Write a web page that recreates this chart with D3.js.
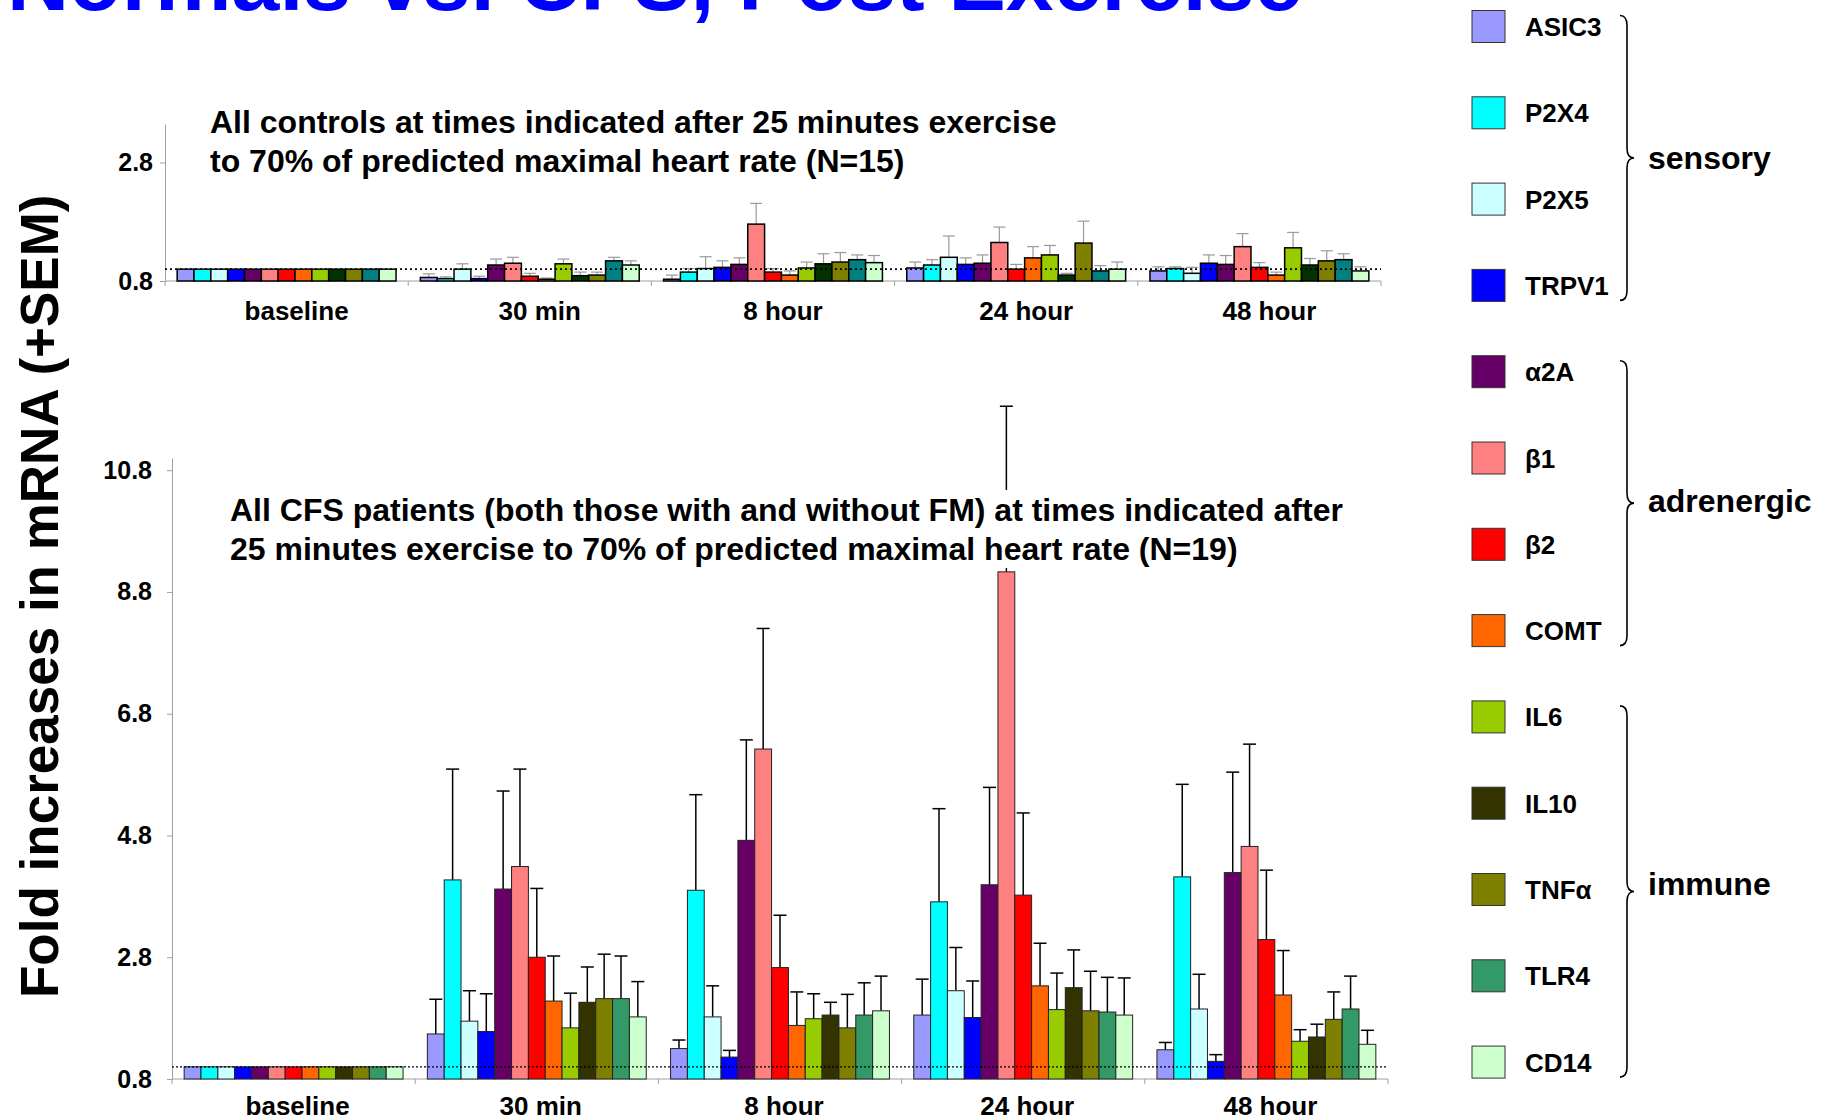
<!DOCTYPE html>
<html>
<head>
<meta charset="utf-8">
<script src="https://cdn.jsdelivr.net/npm/d3@7/dist/d3.min.js"></script>
<style>
  body { margin: 0; background: #fff; }
  svg { display: block; font-family: "Liberation Sans", Arial, sans-serif; font-weight: bold; }
</style>
</head>
<body>
<div id="chart"></div>
<script>
// ---- data ----
const genes = ["ASIC3", "P2X4", "P2X5", "TRPV1", "α2A", "β1", "β2", "COMT", "IL6", "IL10", "TNFα", "TLR4", "CD14"];
const times = ["baseline", "30 min", "8 hour", "24 hour", "48 hour"];
const geneGroups = [
    {name: "sensory", first: 0, last: 3},
    {name: "adrenergic", first: 4, last: 7},
    {name: "immune", first: 8, last: 12}
];
const legendColors = ["#9999FF", "#00FFFF", "#CCFFFF", "#0000FF", "#660066", "#FF8080", "#FF0000", "#FF6600", "#99CC00", "#333300", "#808000", "#339966", "#CCFFCC"];
// the controls panel uses two different shades for IL10 and TLR4
const controlColors = ["#9999FF", "#00FFFF", "#CCFFFF", "#0000FF", "#660066", "#FF8080", "#FF0000", "#FF6600", "#99CC00", "#003300", "#808000", "#008080", "#CCFFCC"];

const controlMeans = [
    [1, 1, 1, 1, 1, 1, 1, 1, 1, 1, 1, 1, 1],
    [0.86, 0.84, 1.00, 0.84, 1.07, 1.10, 0.88, 0.83, 1.09, 0.89, 0.90, 1.14, 1.07],
    [0.83, 0.95, 1.01, 1.03, 1.08, 1.76, 0.95, 0.90, 1.02, 1.09, 1.12, 1.16, 1.11],
    [1.02, 1.07, 1.20, 1.08, 1.10, 1.45, 1.00, 1.19, 1.24, 0.90, 1.44, 0.97, 1.00],
    [0.97, 1.01, 0.93, 1.10, 1.08, 1.38, 1.03, 0.90, 1.36, 1.07, 1.14, 1.16, 0.97]
];
const controlSem = [
    [0, 0, 0, 0, 0, 0, 0, 0, 0, 0, 0, 0, 0],
    [0.06, 0.03, 0.09, 0.04, 0.10, 0.10, 0.05, 0.02, 0.08, 0.06, 0.05, 0.06, 0.07],
    [0.07, 0.06, 0.20, 0.11, 0.11, 0.35, 0.06, 0.07, 0.10, 0.17, 0.16, 0.08, 0.12],
    [0.10, 0.09, 0.36, 0.11, 0.14, 0.26, 0.08, 0.19, 0.16, 0.03, 0.37, 0.09, 0.12],
    [0.07, 0.03, 0.10, 0.14, 0.15, 0.22, 0.08, 0.05, 0.26, 0.11, 0.17, 0.10, 0.07]
];
const cfsMeans = [
    [1, 1, 1, 1, 1, 1, 1, 1, 1, 1, 1, 1, 1],
    [1.54, 4.07, 1.75, 1.58, 3.92, 4.29, 2.80, 2.08, 1.64, 2.06, 2.12, 2.12, 1.82],
    [1.30, 3.90, 1.82, 1.16, 4.72, 6.22, 2.63, 1.68, 1.79, 1.85, 1.64, 1.85, 1.92],
    [1.85, 3.71, 2.25, 1.81, 3.99, 9.13, 3.82, 2.33, 1.94, 2.30, 1.92, 1.90, 1.85],
    [1.28, 4.12, 1.95, 1.09, 4.19, 4.62, 3.09, 2.18, 1.42, 1.49, 1.78, 1.95, 1.37]
];
const cfsSem = [
    [0, 0, 0, 0, 0, 0, 0, 0, 0, 0, 0, 0, 0],
    [0.57, 1.82, 0.50, 0.62, 1.61, 1.60, 1.13, 0.74, 0.57, 0.58, 0.73, 0.70, 0.58],
    [0.14, 1.57, 0.51, 0.11, 1.65, 1.98, 0.86, 0.55, 0.41, 0.21, 0.55, 0.53, 0.57],
    [0.59, 1.53, 0.71, 0.60, 1.60, 2.72, 1.35, 0.70, 0.60, 0.62, 0.65, 0.57, 0.61],
    [0.12, 1.52, 0.57, 0.11, 1.65, 1.68, 1.14, 0.73, 0.19, 0.21, 0.45, 0.54, 0.23]
];
const controlTicks = [0.8, 2.8];
const cfsTicks = [0.8, 2.8, 4.8, 6.8, 8.8, 10.8];

const W = 1829, H = 1120;

const svg = d3.select("#chart").append("svg")
    .attr("width", W)
    .attr("height", H);

// title, mostly above the top edge
svg.append("text")
    .attr("x", 7)
    .attr("y", 10)
    .attr("fill", "#0000FF")
    .style("font-size", "86px")
    .text("Normals vs. CFS, Post Exercise");

// y axis title
svg.append("text")
    .attr("transform", "translate(58,998) rotate(-90)")
    .style("font-size", "53px")
    .text("Fold increases in mRNA (+SEM)");

function drawPanel(cfg) {
    let g = svg.append("g");

    let x = d3.scaleBand().domain(times).range(cfg.xRange).paddingInner(0.1).paddingOuter(0.05);
    let xi = d3.scaleBand().domain(genes).range([0, x.bandwidth()]);
    let y = d3.scaleLinear().domain(cfg.yDomain).range(cfg.yRange);

    // y axis
    let yAxis = g.append("g")
        .attr("transform", "translate(" + cfg.xRange[0] + ",0)")
        .call(d3.axisLeft(y).tickValues(cfg.ticks).tickFormat(d3.format(".1f"))
            .tickSize(5).tickSizeOuter(0).tickPadding(cfg.tickPad));
    yAxis.select(".domain").attr("stroke", "#a0a0a0");
    yAxis.selectAll(".tick line").attr("stroke", "#a0a0a0");
    yAxis.selectAll(".tick text")
        .attr("fill", "#000")
        .style("font-size", "25px")
        .style("font-family", "'Liberation Sans', Arial, sans-serif")
        .style("font-weight", "bold");

    // x axis line + ticks between groups
    let y0 = y(cfg.yDomain[0]);
    g.append("line")
        .attr("x1", cfg.xRange[0]).attr("x2", cfg.xRange[1])
        .attr("y1", y0).attr("y2", y0)
        .attr("stroke", "#a0a0a0");
    let bounds = d3.range(times.length + 1).map(i => cfg.xRange[0] + i * x.step());
    g.selectAll(".xtick").data(bounds).enter().append("line")
        .attr("x1", d => d).attr("x2", d => d)
        .attr("y1", y0).attr("y2", y0 + 5)
        .attr("stroke", "#a0a0a0");

    g.selectAll(".xlabel").data(times).enter().append("text")
        .attr("x", d => x(d) + x.bandwidth() / 2 + cfg.labelShift)
        .attr("y", cfg.labelY)
        .attr("text-anchor", "middle")
        .style("font-size", "26px")
        .text(d => d);

    // bars
    let rows = [];
    times.forEach((t, ti) => genes.forEach((gn, gi) => {
        rows.push({time: t, gene: gn, gi: gi, mean: cfg.means[ti][gi], sem: cfg.sem[ti][gi]});
    }));

    let cap = cfg.cap;
    let err = g.selectAll(".err").data(rows.filter(d => d.sem > 0)).enter().append("g")
        .attr("stroke", cfg.errColor)
        .attr("stroke-width", cfg.errWidth);
    err.append("line")
        .attr("x1", d => x(d.time) + xi(d.gene) + xi.bandwidth() / 2)
        .attr("x2", d => x(d.time) + xi(d.gene) + xi.bandwidth() / 2)
        .attr("y1", d => y(d.mean))
        .attr("y2", d => y(d.mean + d.sem));
    err.append("line")
        .attr("x1", d => x(d.time) + xi(d.gene) + xi.bandwidth() / 2 - cap / 2)
        .attr("x2", d => x(d.time) + xi(d.gene) + xi.bandwidth() / 2 + cap / 2)
        .attr("y1", d => y(d.mean + d.sem))
        .attr("y2", d => y(d.mean + d.sem));

    g.selectAll(".bar").data(rows).enter().append("rect")
        .attr("x", d => x(d.time) + xi(d.gene))
        .attr("width", xi.bandwidth())
        .attr("y", d => y(d.mean))
        .attr("height", d => y0 - y(d.mean))
        .attr("fill", d => cfg.colors[d.gi])
        .attr("stroke", cfg.barStroke)
        .attr("stroke-width", cfg.barStrokeWidth);

    // reference line at 1.0
    g.append("line")
        .attr("x1", cfg.xRange[0]).attr("x2", cfg.xRange[1])
        .attr("y1", y(1)).attr("y2", y(1))
        .attr("stroke", "#000")
        .attr("stroke-width", cfg.dotWidth)
        .attr("stroke-dasharray", cfg.dash);

    // note text
    if (cfg.noteBox) {
        g.append("rect")
            .attr("x", cfg.noteBox[0]).attr("y", cfg.noteBox[1])
            .attr("width", cfg.noteBox[2]).attr("height", cfg.noteBox[3])
            .attr("fill", "#fff");
    }
    let note = g.append("text")
        .attr("x", cfg.noteX)
        .attr("y", cfg.noteY)
        .style("font-size", "32px");
    cfg.note.forEach((line, i) => {
        note.append("tspan").attr("x", cfg.noteX).attr("y", cfg.noteY + i * 38.5).text(line);
    });
}

drawPanel({
    xRange: [165, 1381],
    yDomain: [0.8, 3.45],
    yRange: [281, 124],
    ticks: controlTicks,
    tickPad: 7,
    means: controlMeans,
    sem: controlSem,
    colors: controlColors,
    barStroke: "#000",
    barStrokeWidth: 1.5,
    errColor: "#999",
    errWidth: 1.2,
    cap: 12,
    dotWidth: 1.6,
    dash: "2,3",
    labelY: 320,
    labelShift: 10,
    noteX: 210,
    noteY: 133,
    note: ["All controls at times indicated after 25 minutes exercise",
           "to 70% of predicted maximal heart rate (N=15)"]
});

drawPanel({
    xRange: [172, 1388],
    yDomain: [0.8, 11.0],
    yRange: [1079, 458],
    ticks: cfsTicks,
    tickPad: 15,
    means: cfsMeans,
    sem: cfsSem,
    colors: legendColors,
    barStroke: "#222",
    barStrokeWidth: 1,
    errColor: "#000",
    errWidth: 1.5,
    cap: 13,
    dotWidth: 1.2,
    dash: "2,2",
    labelY: 1115,
    labelShift: 4,
    noteX: 230,
    noteY: 521,
    noteBox: [224, 490, 1126, 78],
    note: ["All CFS patients (both those with and without FM) at times indicated after",
           "25 minutes exercise to 70% of predicted maximal heart rate (N=19)"]
});

// legend
const lgTop = 10.5, lgStep = 86.3, swW = 33, swH = 32;
let legend = svg.append("g");
legend.selectAll("rect").data(genes).enter().append("rect")
    .attr("x", 1472)
    .attr("y", (d, i) => lgTop + i * lgStep)
    .attr("width", swW)
    .attr("height", swH)
    .attr("fill", (d, i) => legendColors[i])
    .attr("stroke", "#333")
    .attr("stroke-width", 1);
legend.selectAll("text").data(genes).enter().append("text")
    .attr("x", 1525)
    .attr("y", (d, i) => lgTop + i * lgStep + swH / 2 + 9.5)
    .style("font-size", "26px")
    .text(d => d);

// braces for gene groups
const labelDy = {sensory: 11, adrenergic: 9, immune: 3};
geneGroups.forEach(gr => {
    let top = lgTop + gr.first * lgStep + 5;
    let bot = lgTop + gr.last * lgStep + swH - 1;
    let mid = (top + bot) / 2;
    let x0 = 1620, xs = x0 + 7, xt = x0 + 14;
    let p = d3.path();
    p.moveTo(x0, top);
    p.quadraticCurveTo(xs, top, xs, top + 10);
    p.lineTo(xs, mid - 10);
    p.quadraticCurveTo(xs, mid, xt, mid);
    p.quadraticCurveTo(xs, mid, xs, mid + 10);
    p.lineTo(xs, bot - 10);
    p.quadraticCurveTo(xs, bot, x0, bot);
    legend.append("path")
        .attr("d", p.toString())
        .attr("fill", "none")
        .attr("stroke", "#000")
        .attr("stroke-width", 1.6);
    legend.append("text")
        .attr("x", 1648)
        .attr("y", mid + labelDy[gr.name])
        .style("font-size", "32px")
        .text(gr.name);
});
</script>
</body>
</html>
